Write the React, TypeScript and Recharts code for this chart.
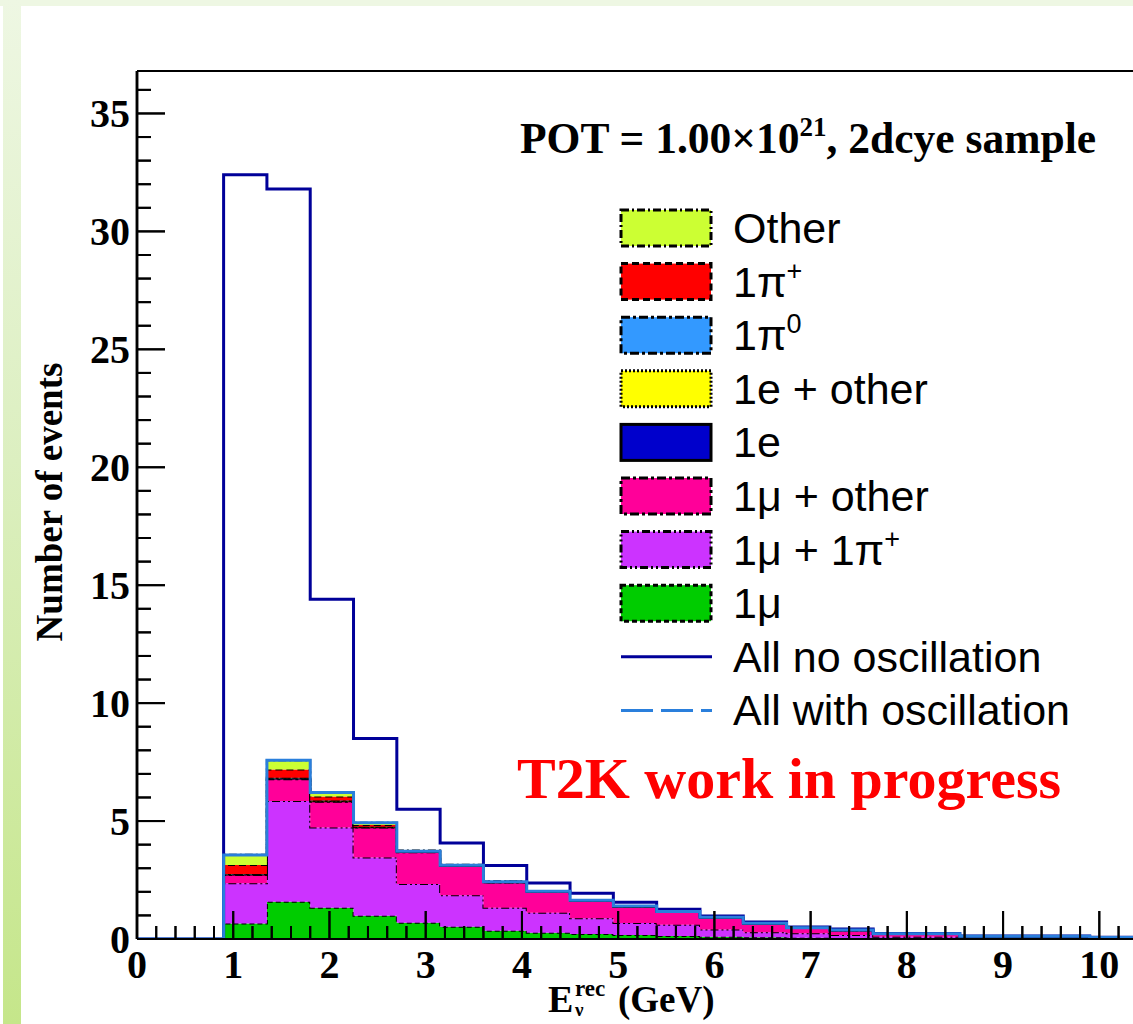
import React from "react";
import { ComposedChart, Area, Line, XAxis, YAxis, ReferenceLine } from "recharts";

// lower edges of the E_rec bins (GeV); every bin is 0.45 GeV wide
const binLow = [0, 0.45, 0.9, 1.35, 1.8, 2.25, 2.7, 3.15, 3.6, 4.05, 4.5, 4.95, 5.4, 5.85, 6.3, 6.75, 7.2, 7.65, 8.1, 8.55, 9.0, 9.45, 9.9];
const binEnd = 10.35;

// stacked components, bottom to top
const mu1 = [0, 0, 0.66, 1.58, 1.33, 0.99, 0.69, 0.52, 0.35, 0.27, 0.21, 0.17, 0.13, 0.1, 0.07, 0.05, 0.04, 0.02, 0.02, 0.01, 0.01, 0.01, 0];
const mu1Pi = [0, 0, 1.7, 4.27, 3.4, 2.47, 1.64, 1.34, 0.97, 0.84, 0.67, 0.51, 0.47, 0.3, 0.22, 0.19, 0.13, 0.08, 0.08, 0.05, 0.05, 0.05, 0.03];
const mu1Other = [0, 0, 0.35, 0.92, 1.09, 1.27, 1.35, 1.24, 1.08, 0.89, 0.74, 0.7, 0.55, 0.5, 0.36, 0.23, 0.2, 0.11, 0.11, 0.05, 0.05, 0.05, 0.02];
const e1 = [0, 0, 0.02, 0.03, 0.02, 0.01, 0.01, 0.01, 0.01, 0.01, 0.01, 0, 0, 0, 0, 0, 0, 0, 0, 0, 0, 0, 0];
const e1Other = [0, 0, 0.01, 0.02, 0.01, 0.01, 0.01, 0, 0, 0, 0, 0, 0, 0, 0, 0, 0, 0, 0, 0, 0, 0, 0];
const pi0 = [0, 0, 0.02, 0.02, 0.02, 0.01, 0.01, 0.01, 0.01, 0, 0, 0, 0, 0, 0, 0, 0, 0, 0, 0, 0, 0, 0];
const piPlus = [0, 0, 0.38, 0.35, 0.17, 0.07, 0.02, 0.02, 0.02, 0.01, 0, 0, 0, 0, 0, 0, 0, 0, 0, 0, 0, 0, 0];
const other = [0, 0, 0.43, 0.39, 0.18, 0.1, 0.02, 0.01, 0.01, 0.01, 0, 0, 0, 0, 0, 0, 0, 0, 0, 0, 0, 0, 0];

// totals
const allNoOsc = [0, 0, 32.4, 31.8, 14.4, 8.5, 5.5, 4.07, 3.12, 2.37, 1.94, 1.56, 1.26, 0.98, 0.72, 0.51, 0.42, 0.23, 0.23, 0.13, 0.13, 0.13, 0.07];
const allOsc = [0, 0, 3.56, 7.58, 6.21, 4.93, 3.72, 3.13, 2.43, 2.02, 1.64, 1.4, 1.17, 0.92, 0.67, 0.48, 0.38, 0.22, 0.22, 0.12, 0.12, 0.12, 0.06];

const yMax = 36.8;
const yTicks = Array.from({ length: 37 }, (_, i) => i);
const xTicks = Array.from({ length: 52 }, (_, i) => Math.round(i * 2) / 10);

const SERIF = "'Liberation Serif', 'Times New Roman', serif";
const SANS = "'Liberation Sans', Arial, Helvetica, sans-serif";
const MARGIN = { top: 71, right: 0, bottom: 0, left: 0 };

const stack = [
  { key: "mu1", values: mu1, fill: "#00cc00", dash: "5 3", label: "1μ" },
  { key: "mu1Pi", values: mu1Pi, fill: "#cc33ff", dash: "8 3 2 3 2 3", label: "1μ + 1π+" },
  { key: "mu1Other", values: mu1Other, fill: "#ff0099", dash: "9 3 3 3", label: "1μ + other" },
  { key: "e1", values: e1, fill: "#0000cc", dash: undefined, label: "1e" },
  { key: "e1Other", values: e1Other, fill: "#ffff00", dash: "2 2", label: "1e + other" },
  { key: "pi0", values: pi0, fill: "#3399ff", dash: "9 3 3 3", label: "1π0" },
  { key: "piPlus", values: piPlus, fill: "#ff0000", dash: "7 4", label: "1π+" },
  { key: "other", values: other, fill: "#ccff33", dash: "8 3 2 3", label: "Other" },
];

const rows = binLow.map((x, i) => {
  const r: Record<string, number> = { x, noOsc: allNoOsc[i], osc: allOsc[i] };
  stack.forEach((s) => (r[s.key] = s.values[i]));
  return r;
});
rows.push({ ...rows[rows.length - 1], x: binEnd });

function XTick({ x, y, payload, showLabel }: any) {
  const v = payload.value as number;
  const major = Math.abs(v - Math.round(v)) < 1e-6;
  return (
    <g>
      <line x1={x} x2={x} y1={y} y2={y - (major ? 28 : 13)} stroke="#000" strokeWidth={2} />
      {major && showLabel && (
        <text x={x} y={y + 39} textAnchor="middle" fontFamily={SERIF} fontWeight="bold" fontSize={40} fill="#000">
          {Math.round(v)}
        </text>
      )}
    </g>
  );
}

function YTick({ x, y, payload, showLabel }: any) {
  const v = payload.value as number;
  const major = v % 5 === 0;
  return (
    <g>
      <line x1={x} x2={x + (major ? 28 : 14)} y1={y} y2={y} stroke="#000" strokeWidth={2} />
      {major && showLabel && (
        <text x={x - 7} y={y + 14} textAnchor="end" fontFamily={SERIF} fontWeight="bold" fontSize={40} fill="#000">
          {v}
        </text>
      )}
    </g>
  );
}

function Label({ text, x, y }: { text: string; x: number; y: number }) {
  // handles the "+"/"0" superscripts of the pion labels
  const m = text.match(/^(.*π)([+0])$/);
  if (!m) {
    return (
      <text x={x} y={y} fontFamily={SANS} fontSize={43} fill="#000">
        {text}
      </text>
    );
  }
  return (
    <text x={x} y={y} fontFamily={SANS} fontSize={43} fill="#000">
      {m[1]}
      <tspan dy={-17} fontSize={27}>{m[2]}</tspan>
    </text>
  );
}

function PlotLegend() {
  const top = 228;
  const step = 53.6;
  const boxes = [...stack].reverse();
  return (
    <svg width={530} height={560} style={{ position: "absolute", left: 600, top: 180 }}>
      <g transform="translate(-600,-180)">
        {boxes.map((s, i) => {
          const cy = top + i * step;
          return (
            <g key={s.key}>
              <rect x={621} y={cy - 18} width={90} height={36} fill={s.fill} stroke="#000" strokeWidth={3} strokeDasharray={s.dash} />
              <Label text={s.label} x={733} y={cy + 15} />
            </g>
          );
        })}
        <line x1={621} x2={712} y1={top + 8 * step} y2={top + 8 * step} stroke="#000099" strokeWidth={3} />
        <Label text="All no oscillation" x={733} y={top + 8 * step + 15} />
        <line x1={621} x2={712} y1={top + 9 * step} y2={top + 9 * step} stroke="#2a7fdc" strokeWidth={3} strokeDasharray="32 8" />
        <Label text="All with oscillation" x={733} y={top + 9 * step + 15} />
      </g>
    </svg>
  );
}

function Axes({ front }: { front: boolean }) {
  return (
    <>
      <XAxis
        dataKey="x"
        type="number"
        domain={[0, binEnd]}
        ticks={xTicks}
        interval={0}
        height={85}
        tickSize={0}
        tickMargin={0}
        tickLine={false}
        tick={<XTick showLabel={!front} />}
        axisLine={front ? false : { stroke: "#000", strokeWidth: 2 }}
        allowDataOverflow
      />
      <YAxis
        type="number"
        domain={[0, yMax]}
        ticks={yTicks}
        interval={0}
        width={137}
        tickSize={0}
        tickMargin={0}
        tickLine={false}
        tick={<YTick showLabel={!front} />}
        axisLine={{ stroke: "#000", strokeWidth: 2.5 }}
        allowDataOverflow
      />
    </>
  );
}

export default function App() {
  return (
    <div style={{ position: "absolute", left: 0, top: 0, width: 1133, height: 1024, overflow: "hidden", background: "#fff" }}>
      <div style={{ position: "absolute", left: 0, top: 0, width: 1133, height: 6, background: "#eef7e3" }} />
      <div
        style={{
          position: "absolute",
          left: 3,
          top: 0,
          width: 18,
          height: 1024,
          background: "linear-gradient(to bottom, #eef7e3 0%, #dcefc0 45%, #c5e68a 100%)",
        }}
      />
      <div style={{ position: "absolute", left: 0, top: 0 }}>
        <ComposedChart width={1133} height={1024} data={rows} margin={MARGIN}>
          {stack.map((s) => (
            <Area
              key={s.key}
              dataKey={s.key}
              stackId="a"
              type="stepAfter"
              fill={s.fill}
              fillOpacity={1}
              stroke="#000"
              strokeWidth={2}
              strokeDasharray={s.dash}
              dot={false}
              activeDot={false}
              isAnimationActive={false}
            />
          ))}
          {Axes({ front: false })}
          <ReferenceLine y={yMax} stroke="#000" strokeWidth={2} />
          <Line dataKey="noOsc" type="stepAfter" stroke="#000099" strokeWidth={3} dot={false} activeDot={false} isAnimationActive={false} />
          <Line dataKey="osc" type="stepAfter" stroke="#2a7fdc" strokeWidth={3} dot={false} activeDot={false} isAnimationActive={false} />
        </ComposedChart>
      </div>
      {/* second pass: ROOT draws the tick marks on top of the filled histograms */}
      <div style={{ position: "absolute", left: 0, top: 0, pointerEvents: "none" }}>
        <ComposedChart width={1133} height={1024} data={rows} margin={MARGIN}>
          {Axes({ front: true })}
        </ComposedChart>
      </div>
      <PlotLegend />
      <svg width={1133} height={1024} style={{ position: "absolute", left: 0, top: 0, pointerEvents: "none" }}>
        <text x={520} y={153} fontFamily={SERIF} fontWeight="bold" fontSize={43.5} fill="#000">
          POT = 1.00×10<tspan dy={-17} fontSize={27}>21</tspan>
          <tspan dy={17}>, 2dcye sample</tspan>
        </text>
        <text x={517} y={798} fontFamily={SERIF} fontWeight="bold" fontSize={58} fill="#ff0000">
          T2K work in progress
        </text>
        <text x={62} y={502} transform="rotate(-90, 62, 502)" textAnchor="middle" fontFamily={SERIF} fontWeight="bold" fontSize={37} fill="#000">
          Number of events
        </text>
        <text x={548} y={1012} fontFamily={SERIF} fontWeight="bold" fontSize={38} fill="#000">E</text>
        <text x={575} y={996} fontFamily={SERIF} fontWeight="bold" fontSize={23} fill="#000">rec</text>
        <text x={575} y={1016} fontFamily={SERIF} fontWeight="bold" fontSize={19} fill="#000">ν</text>
        <text x={618} y={1012} fontFamily={SERIF} fontWeight="bold" fontSize={37} fill="#000">(GeV)</text>
      </svg>
    </div>
  );
}
